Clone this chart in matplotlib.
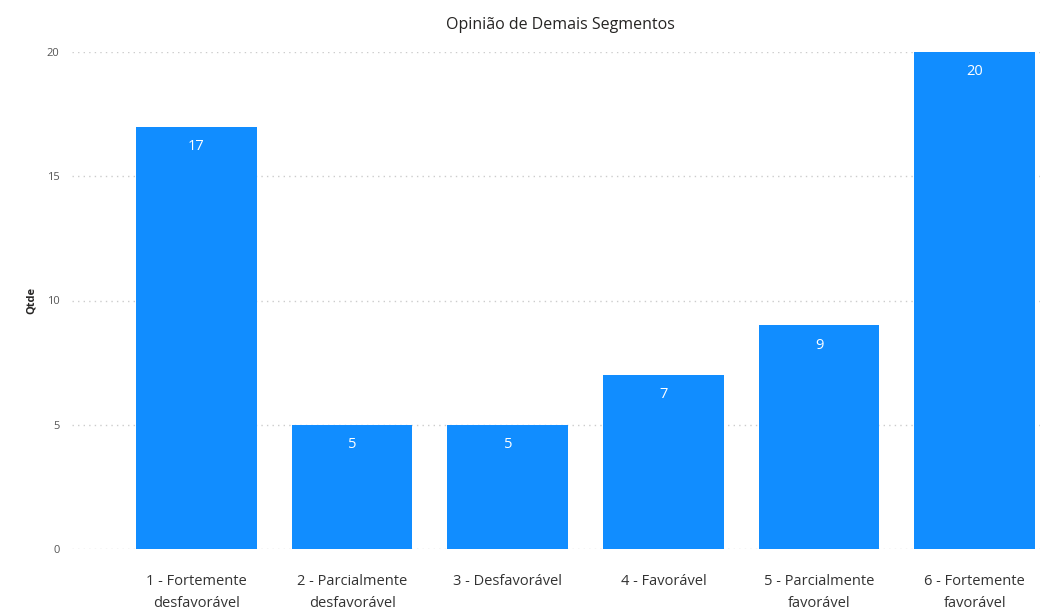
import matplotlib.pyplot as plt

categorias = ['1 - Fortemente\ndesfavorável', '2 - Parcialmente\ndesfavorável',
              '3 - Desfavorável', '4 - Favorável',
              '5 - Parcialmente\nfavorável', '6 - Fortemente\nfavorável']
qtde = [17, 5, 5, 7, 9, 20]
yticks = [0, 5, 10, 15, 20]

plt.rcParams['font.family'] = ['Open Sans', 'DejaVu Sans']

fig = plt.figure(figsize=(10.46, 6.16), dpi=100)
ax = fig.add_axes([72/1046, 67/616, (1040-72)/1046, (549-52)/616])

x = range(len(categorias))
bars = ax.bar(x, qtde, width=0.775, color='#118DFF', zorder=3)

## rótulos dentro das barras
for xi, v in zip(x, qtde):
    ax.text(xi, v - 0.5, str(v), ha='center', va='top', color='white', fontsize=10.5)

ax.set_xlim(-0.8, 5.42)
ax.set_ylim(0, 20)
ax.set_yticks(yticks)
ax.set_xticks(list(x))
ax.set_xticklabels(categorias, fontsize=10.5, color='#333333', linespacing=1.65)
ax.tick_params(axis='x', length=0, pad=18)
ax.tick_params(axis='y', length=0, pad=9, labelsize=8, labelcolor='#555555')
ax.grid(axis='y', linestyle=(0, (1, 3)), color='#cccccc', linewidth=1, zorder=0)
for s in ax.spines.values():
    s.set_visible(False)

ax.set_ylabel('Qtde', fontsize=8, color='#252423', labelpad=7, fontweight='bold')
fig.text(560/1046, 1 - 25/616, 'Opinião de Demais Segmentos', ha='center', va='center',
         fontsize=11.5, color='#252423')

fig.savefig('out.png', dpi=100)
